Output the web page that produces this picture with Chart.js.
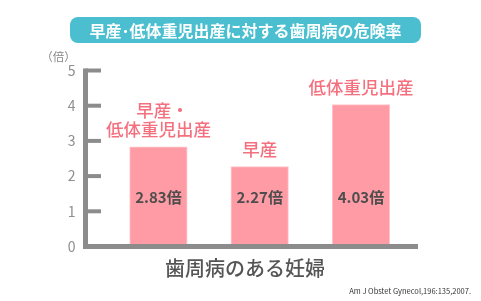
<!DOCTYPE html>
<html lang="ja">
<head>
<meta charset="utf-8">
<title>早産･低体重児出産に対する歯周病の危険率</title>
<script src="https://cdn.jsdelivr.net/npm/chart.js@4.4.0/dist/chart.umd.min.js"></script>
<style>
  html, body { margin: 0; padding: 0; background: #fff; }
  canvas { display: block; }
</style>
</head>
<body>
<canvas id="risk" width="481" height="301"></canvas>
<script>
// values
const chartTitle = '早産･低体重児出産に対する歯周病の危険率';
const categories = [['早産・', '低体重児出産'], ['早産'], ['低体重児出産']];
const riskValues = [2.83, 2.27, 4.03];
const valueLabels = ['2.83倍', '2.27倍', '4.03倍'];
const yTicks = [0, 1, 2, 3, 4, 5];
const unitLabel = '（倍）';
const groupLabel = '歯周病のある妊婦';
const sourceNote = 'Am J Obstet Gynecol,196:135,2007.';

const CJK = "'Noto Sans CJK JP', 'Noto Sans', sans-serif";
const axisGray = '#8c8c8c';
const barPink = '#ff9ba4';
const labelPink = '#f5707f';

function roundRect(ctx, x, y, w, h, r) {
    ctx.beginPath();
    ctx.moveTo(x + r, y);
    ctx.arcTo(x + w, y, x + w, y + h, r);
    ctx.arcTo(x + w, y + h, x, y + h, r);
    ctx.arcTo(x, y + h, x, y, r);
    ctx.arcTo(x, y, x + w, y, r);
    ctx.closePath();
}

// axes, labels and the title box are drawn here
const decor = {
    id: 'decor',
    beforeDraw(chart) {
        const ctx = chart.ctx;
        ctx.save();
        ctx.fillStyle = '#4bbfcf';
        roundRect(ctx, 70, 17, 351, 26, 8);
        ctx.fill();
        ctx.fillStyle = '#fff';
        ctx.font = `bold 16px ${CJK}`;
        ctx.textAlign = 'center';
        ctx.textBaseline = 'middle';
        ctx.fillText(chartTitle, 245.5, 30.5);

        ctx.fillStyle = '#888';
        ctx.font = `11.5px ${CJK}`;
        ctx.fillText(unitLabel, 58.5, 57);

        ctx.fillStyle = '#555';
        ctx.font = `500 20px ${CJK}`;
        ctx.fillText(groupLabel, 245, 268.5);

        ctx.fillStyle = '#333';
        ctx.font = `7.5px ${CJK}`;
        ctx.textAlign = 'right';
        ctx.fillText(sourceNote, 471, 291.5);
        ctx.restore();
    },
    afterDatasetsDraw(chart) {
        const ctx = chart.ctx;
        const y = chart.scales.y;
        const area = chart.chartArea;
        const base = y.getPixelForValue(0);
        const top = y.getPixelForValue(yTicks[yTicks.length - 1]) - 2;
        ctx.save();
        ctx.fillStyle = axisGray;
        ctx.fillRect(area.left - 2.5, top, 5, base + 2.5 - top);
        ctx.fillRect(area.left - 2.5, base - 2.5, area.right - area.left + 2.5, 5);
        for (const t of yTicks) {
            if (t === 0) continue;
            ctx.fillRect(area.left, y.getPixelForValue(t) - 2, 15.5, 4);
        }

        const meta = chart.getDatasetMeta(0);
        ctx.textAlign = 'center';
        ctx.textBaseline = 'middle';
        meta.data.forEach((bar, i) => {
            ctx.fillStyle = '#4d4d4d';
            ctx.font = `bold 15px ${CJK}`;
            ctx.fillText(valueLabels[i], bar.x, y.getPixelForValue(1.4));

            ctx.fillStyle = labelPink;
            ctx.font = `500 17.5px ${CJK}`;
            const lines = categories[i];
            lines.forEach((line, j) => {
                const offset = 17.5 + (lines.length - 1 - j) * 19.5;
                // a trailing full-width dot leaves blank space on the right
                const shift = line.endsWith('・') ? 4 : 0;
                ctx.fillText(line, bar.x + shift, bar.y - offset);
            });
        });
        ctx.restore();
    }
};

new Chart(document.getElementById('risk'), {
    type: 'bar',
    data: {
        datasets: [{
            data: riskValues.map((v, i) => ({ x: i, y: v })),
            backgroundColor: barPink,
            borderColor: '#ffc6ca',
            borderWidth: 1,
            barThickness: 57.5
        }]
    },
    options: {
        responsive: false,
        devicePixelRatio: 1,
        animation: false,
        layout: { padding: { left: 65.5, right: 63, top: 70.5, bottom: 54.5 } },
        plugins: {
            legend: { display: false },
            tooltip: { enabled: false }
        },
        scales: {
            x: {
                type: 'linear',
                offset: false,
                min: -0.72,
                max: 2.563,
                display: false
            },
            y: {
                min: 0,
                max: 5,
                afterFit: (scale) => { scale.width = 20; },
                grid: { display: false, drawTicks: false },
                border: { display: false },
                ticks: {
                    stepSize: 1,
                    padding: 10,
                    color: '#8e8e8e',
                    font: { family: CJK, size: 14 }
                }
            }
        }
    },
    plugins: [decor]
});
</script>
</body>
</html>
